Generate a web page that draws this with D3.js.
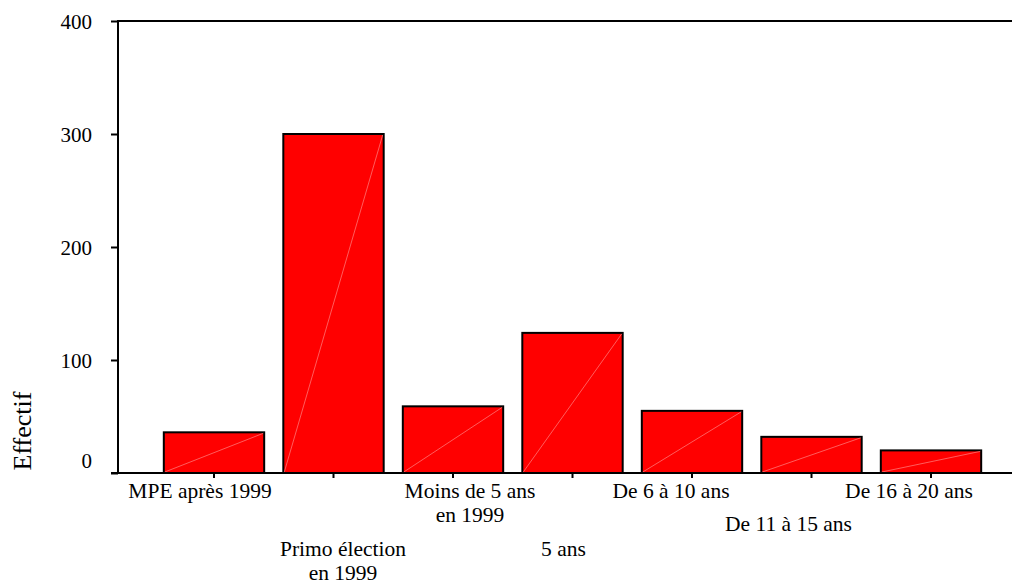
<!DOCTYPE html>
<html>
<head>
<meta charset="utf-8">
<script src="https://cdn.jsdelivr.net/npm/d3@7"></script>
<style>
  html, body { margin: 0; padding: 0; background: #fff; }
  svg { display: block; }
  text { font-family: "Liberation Serif", "Times New Roman", serif; fill: #000; }
</style>
</head>
<body>
<svg id="chart" width="1012" height="580"></svg>
<script>
// ---- data ----
const categories = [
  "MPE après 1999",
  "Primo élection\nen 1999",
  "Moins de 5 ans\nen 1999",
  "5 ans",
  "De 6 à 10 ans",
  "De 11 à 15 ans",
  "De 16 à 20 ans"
];
const values = [36, 300, 59, 124, 55, 32, 20];
const yTicks = [0, 100, 200, 300, 400];
const yLabel = "Effectif";

// ---- layout ----
const svg = d3.select("#chart");
const W = 1012, H = 580;
const xAxisY = 473, yTop = 21, yAxisX = 118;
// staggered label rows (layout, not data)
const labelRow = [0, 2, 0, 2, 0, 1, 0];
const labelDx = [-14, 9.5, 17, -9, -21, -23, -22];
const rowY = [498, 531, 556];
const lineH = 24;

const x = d3.scaleBand()
  .domain(categories)
  .range([154.25, 990.75])
  .paddingInner(0.16)
  .paddingOuter(0.08);

const y = d3.scaleLinear().domain([0, 400]).range([xAxisY, yTop]);

// frame lines
svg.append("line")
  .attr("x1", yAxisX).attr("x2", W)
  .attr("y1", y(400)).attr("y2", y(400))
  .attr("stroke", "#000").attr("stroke-width", 2);

// bars
const bars = svg.append("g");
bars.selectAll("rect")
  .data(values)
  .join("rect")
  .attr("x", (d, i) => x(categories[i]))
  .attr("y", d => y(d))
  .attr("width", x.bandwidth())
  .attr("height", d => y(0) - y(d))
  .attr("fill", "#ff0000")
  .attr("stroke", "#000")
  .attr("stroke-width", 2);

// faint diagonal artifact
bars.selectAll("line.diag")
  .data(values)
  .join("line")
  .attr("class", "diag")
  .attr("x1", (d, i) => x(categories[i]) + 1)
  .attr("y1", y(0) - 1)
  .attr("x2", (d, i) => x(categories[i]) + x.bandwidth() - 1)
  .attr("y2", d => y(d) + 1)
  .attr("stroke", "#ff9a9a")
  .attr("stroke-width", 0.6);

// y axis
const yAxis = d3.axisLeft(y).tickValues(yTicks).tickSize(7).tickPadding(0).tickFormat("");
const gy = svg.append("g").attr("transform", `translate(${yAxisX},0)`).call(yAxis);
gy.select(".domain").remove();
gy.selectAll(".tick line").attr("stroke", "#000").attr("stroke-width", 2);
svg.append("line")
  .attr("x1", yAxisX).attr("x2", yAxisX)
  .attr("y1", y(400) - 1).attr("y2", y(0) + 1)
  .attr("stroke", "#000").attr("stroke-width", 2);

svg.append("g").selectAll("text")
  .data(yTicks)
  .join("text")
  .attr("x", 92)
  .attr("y", d => y(d) + (d === 0 ? -12 : 1))
  .attr("dy", "0.35em")
  .attr("text-anchor", "end")
  .attr("font-size", 21)
  .text(d => d);

// x axis
const xAxis = d3.axisBottom(x).tickSize(5).tickFormat("");
const gx = svg.append("g").attr("transform", `translate(0,${xAxisY})`).call(xAxis);
gx.select(".domain").remove();
gx.selectAll(".tick line").attr("stroke", "#000").attr("stroke-width", 2);
svg.append("line")
  .attr("x1", 111).attr("x2", W)
  .attr("y1", xAxisY).attr("y2", xAxisY)
  .attr("stroke", "#000").attr("stroke-width", 2);

// category labels (staggered)
const lbl = svg.append("g").selectAll("text")
  .data(categories)
  .join("text")
  .attr("text-anchor", "middle")
  .attr("font-size", 21.5)
  .attr("x", (d, i) => x(d) + x.bandwidth() / 2 + labelDx[i])
  .attr("y", (d, i) => rowY[labelRow[i]]);
lbl.each(function(d, i) {
  const t = d3.select(this);
  const cx = x(d) + x.bandwidth() / 2 + labelDx[i];
  d.split("\n").forEach((line, k) => {
    t.append("tspan").attr("x", cx).attr("dy", k === 0 ? 0 : lineH).text(line);
  });
});

// y label
svg.append("text")
  .attr("transform", "translate(31,431) rotate(-90)")
  .attr("text-anchor", "middle")
  .attr("font-size", 26)
  .text(yLabel);
</script>
</body>
</html>
